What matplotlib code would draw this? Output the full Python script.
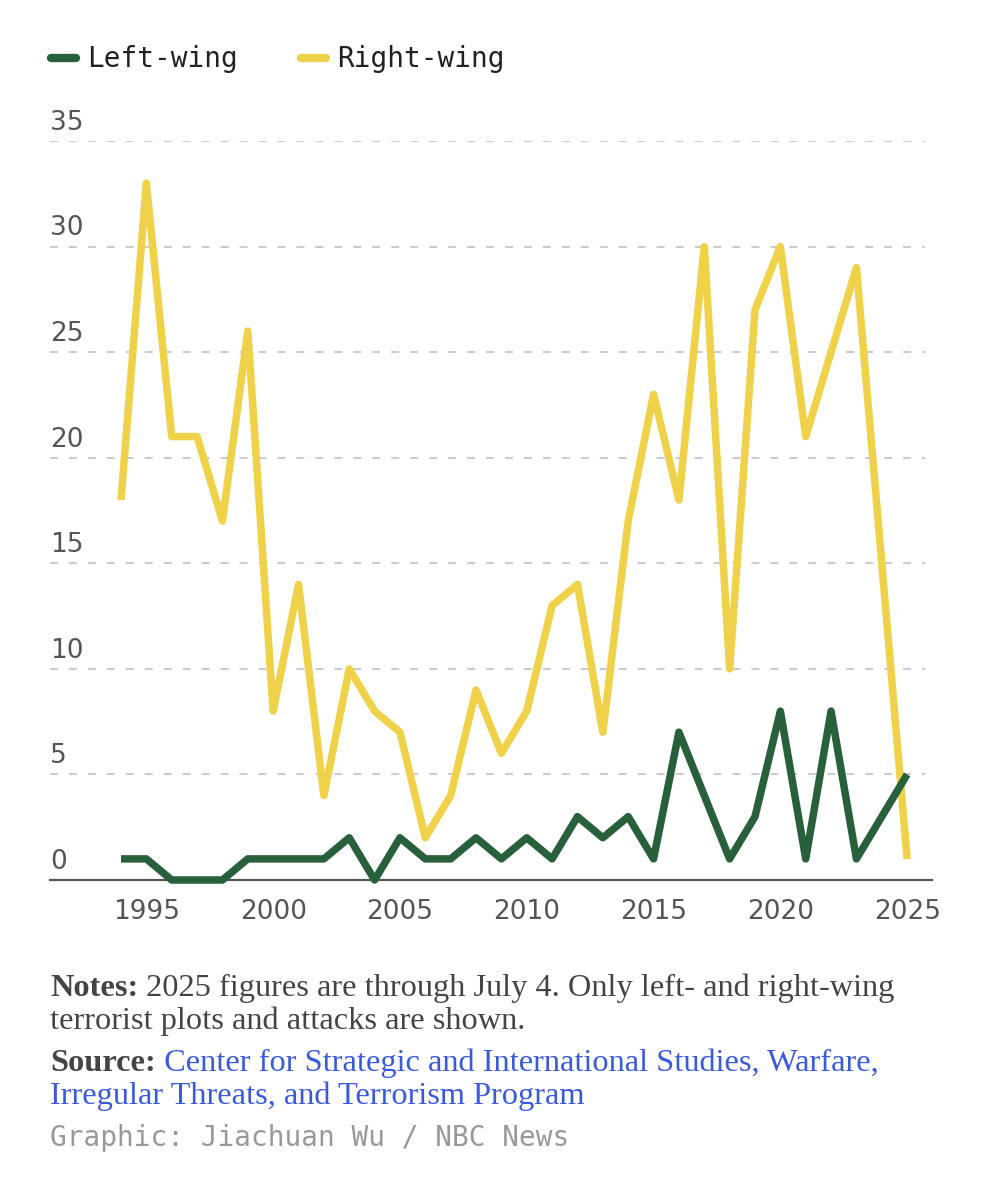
import matplotlib
matplotlib.use('Agg')
import matplotlib.pyplot as plt
from matplotlib.lines import Line2D

years = list(range(1994, 2026))
left_wing = [1, 1, 0, 0, 0, 1, 1, 1, 1, 2, 0, 2, 1, 1, 2, 1,
             2, 1, 3, 2, 3, 1, 7, 4, 1, 3, 8, 1, 8, 1, 3, 5]
right_wing = [18, 33, 21, 21, 17, 26, 8, 14, 4, 10, 8, 7, 2, 4, 9, 6,
              8, 13, 14, 7, 17, 23, 18, 30, 10, 27, 30, 21, 25, 29, 15, 1]
x_ticks = [1995, 2000, 2005, 2010, 2015, 2020, 2025]
y_ticks = [0, 5, 10, 15, 20, 25, 30, 35]

GREEN = '#27603a'
YELLOW = '#efd24a'
W, H = 990, 1200

fig = plt.figure(figsize=(W / 100, H / 100), dpi=100)
ax = fig.add_axes([50 / W, 1 - 880 / H, 882 / W, 739 / H])

ax.plot(years, right_wing, color=YELLOW, lw=5.4, solid_joinstyle='round',
        solid_capstyle='butt', clip_on=False, zorder=3)
ax.plot(years, left_wing, color=GREEN, lw=5.4, solid_joinstyle='round',
        solid_capstyle='butt', clip_on=False, zorder=4)

ax.set_xlim(1991.2, 2025.98)
ax.set_ylim(0, 35)

# dashed gridlines + labels sitting above them
for v in y_ticks[1:]:
    ax.axhline(v, xmin=0, xmax=0.992, color='#cccccc', lw=1.5,
               dashes=(3.8, 5.3), zorder=1)
for v in y_ticks:
    ax.annotate(str(v), xy=(0, v), xycoords=('axes fraction', 'data'),
                xytext=(0, 8), textcoords='offset points', ha='left',
                va='baseline', fontsize=19, color='#555555')

for s in ['top', 'right', 'left']:
    ax.spines[s].set_visible(False)
ax.spines['bottom'].set_color('#555555')
ax.spines['bottom'].set_linewidth(1.6)
ax.spines['bottom'].set_zorder(2)
ax.set_yticks([])
ax.set_xticks(x_ticks)
ax.tick_params(axis='x', length=0, pad=14, labelsize=19, labelcolor='#555555')

# legend
mono = 'DejaVu Sans Mono'
for x0, col, lab in [(50, GREEN, 'Left-wing'), (300, YELLOW, 'Right-wing')]:
    fig.add_artist(Line2D([(x0 + 1) / W, (x0 + 26) / W], [1 - 58 / H, 1 - 58 / H],
                          color=col, lw=6, solid_capstyle='round'))
    fig.text((x0 + 37) / W, 1 - 67 / H, lab, fontsize=20, family=mono,
             color='#222222', va='baseline')

# footer text
renderer = fig.canvas.get_renderer()


def write_line(parts, x_px, y_px):
    x = x_px
    for txt, weight, col in parts:
        t = fig.text(x / W, 1 - y_px / H, txt, fontsize=23.3,
                     family='Liberation Serif', weight=weight, color=col,
                     va='baseline', ha='left')
        bb = t.get_window_extent(renderer)
        x += bb.width


NOTE = '#444444'
BLUE = '#3a5ad9'
write_line([('Notes:', 'bold', NOTE),
            (' 2025 figures are through July 4. Only left- and right-wing', 'normal', NOTE)], 50, 996)
write_line([('terrorist plots and attacks are shown.', 'normal', NOTE)], 50, 1029)
write_line([('Source:', 'bold', NOTE),
            (' Center for Strategic and International Studies, Warfare,', 'normal', BLUE)], 50, 1071)
write_line([('Irregular Threats, and Terrorism Program', 'normal', BLUE)], 50, 1104)
fig.text(50 / W, 1 - 1146 / H, 'Graphic: Jiachuan Wu / NBC News', fontsize=20,
         family=mono, color='#999999', va='baseline')

fig.savefig('out.png', dpi=100, facecolor='white')
